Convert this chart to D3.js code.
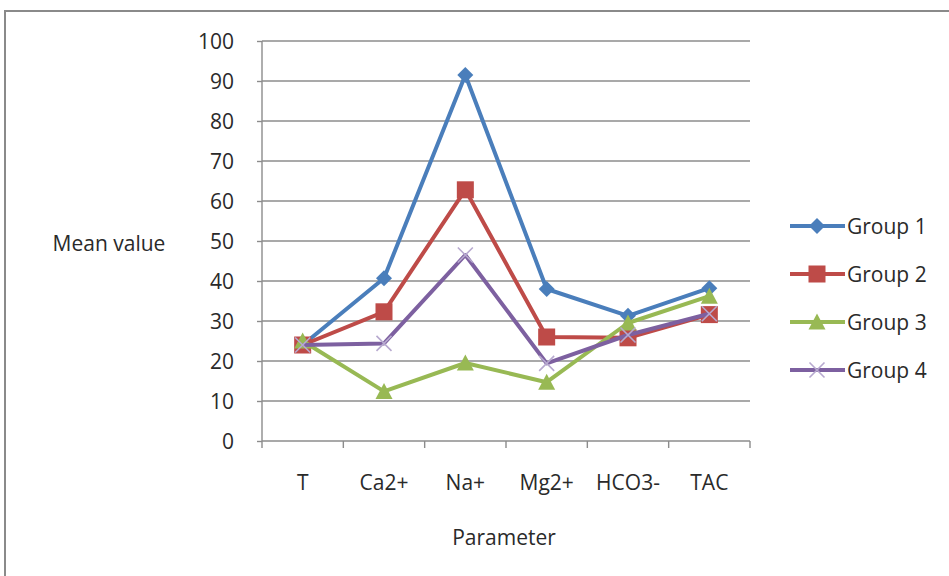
<!DOCTYPE html>
<html>
<head>
<meta charset="utf-8">
<script src="https://cdn.jsdelivr.net/npm/d3@7"></script>
<style>
  html, body { margin: 0; padding: 0; background: #fff; }
  svg { display: block; }
  text { font-family: "Open Sans", "Lato", sans-serif; fill: #2a2a2a; }
</style>
</head>
<body>
<div id="chart"></div>
<script>
// Mean value of each water parameter for the four groups
const categories = ["T", "Ca2+", "Na+", "Mg2+", "HCO3-", "TAC"];
const seriesNames = ["Group 1", "Group 2", "Group 3", "Group 4"];
const group1 = [24, 40.7, 91.5, 38, 31.3, 38.2];
const group2 = [24, 32.3, 62.8, 26, 25.8, 31.6];
const group3 = [25, 12.4, 19.5, 14.7, 29.5, 36.2];
const group4 = [24, 24.4, 46.5, 19.4, 26.5, 31.8];
const yTicks = [0, 10, 20, 30, 40, 50, 60, 70, 80, 90, 100];
const seriesColors = ["#4a7ebb", "#be4b48", "#98b954", "#7d60a0"];
const markerKinds = ["diamond", "square", "triangle", "cross"];

const W = 949, H = 576;
const FS = 21;
const svg = d3.select("#chart").append("svg").attr("width", W).attr("height", H);

// outer chart frame
svg.append("rect").attr("x", 5).attr("y", 11).attr("width", W + 10).attr("height", H + 10)
  .attr("fill", "#fff").attr("stroke", "#8a8a8a").attr("stroke-width", 2);

const plot = { left: 262, right: 750, top: 41, bottom: 441 };

const x = d3.scaleBand().domain(categories).range([plot.left, plot.right]);
const y = d3.scaleLinear().domain([0, 100]).range([plot.bottom, plot.top]);

// horizontal gridlines
svg.append("g").selectAll("line").data(yTicks.filter(d => d > 0)).join("line")
  .attr("x1", plot.left).attr("x2", plot.right)
  .attr("y1", d => y(d)).attr("y2", d => y(d))
  .attr("stroke", "#8c8c8c").attr("stroke-width", 1.4);

// y axis
const yAxis = svg.append("g").attr("transform", `translate(${plot.left},0)`)
  .call(d3.axisLeft(y).tickValues(yTicks).tickSize(5).tickPadding(8).tickFormat(d3.format("d")));
yAxis.select(".domain").attr("stroke", "#8c8c8c").attr("stroke-width", 1.4).attr("d", `M0,${plot.top}V${plot.bottom}`);
yAxis.selectAll(".tick line").attr("stroke", "#8c8c8c").attr("stroke-width", 1.4);
yAxis.selectAll(".tick text").attr("font-size", FS).attr("fill", "#2a2a2a")
  .attr("font-family", "'Open Sans', sans-serif").attr("dx", -15).attr("dy", "0.34em");

// x axis with ticks between categories
const xAxis = svg.append("g").attr("transform", `translate(0,${plot.bottom})`);
xAxis.append("line").attr("x1", plot.left).attr("x2", plot.right).attr("stroke", "#8c8c8c").attr("stroke-width", 1.4);
const bounds = categories.map(c => x(c)).concat([plot.right]);
xAxis.selectAll("line.tk").data(bounds).join("line").attr("class", "tk")
  .attr("x1", d => d).attr("x2", d => d).attr("y1", 0).attr("y2", 7)
  .attr("stroke", "#8c8c8c").attr("stroke-width", 1.4);
xAxis.selectAll("text").data(categories).join("text")
  .attr("x", d => x(d) + x.bandwidth() / 2).attr("y", 49)
  .attr("text-anchor", "middle").attr("font-size", FS).text(d => d);

// axis titles
svg.append("text").attr("x", 109).attr("y", 251).attr("text-anchor", "middle")
  .attr("font-size", FS).text("Mean value");
svg.append("text").attr("x", 504).attr("y", 545).attr("text-anchor", "middle")
  .attr("font-size", FS).text("Parameter");

// marker shapes
function drawMarker(g, kind, color, cx, cy) {
  if (kind === "diamond") {
    g.append("path").attr("d", `M${cx},${cy - 8}L${cx + 8},${cy}L${cx},${cy + 8}L${cx - 8},${cy}Z`)
      .attr("fill", color);
  } else if (kind === "square") {
    g.append("rect").attr("x", cx - 8.5).attr("y", cy - 8.5).attr("width", 17).attr("height", 17)
      .attr("fill", color);
  } else if (kind === "triangle") {
    g.append("path").attr("d", `M${cx},${cy - 8.5}L${cx + 8.5},${cy + 7.5}L${cx - 8.5},${cy + 7.5}Z`)
      .attr("fill", color);
  } else {
    g.append("path").attr("d", `M${cx - 7.5},${cy - 7.5}L${cx + 7.5},${cy + 7.5}M${cx + 7.5},${cy - 7.5}L${cx - 7.5},${cy + 7.5}`)
      .attr("stroke", "#b7a9cf").attr("stroke-width", 1.6).attr("fill", "none");
  }
}

const allSeries = [group1, group2, group3, group4];
const line = d3.line().x((d, i) => x(categories[i]) + x.bandwidth() / 2).y(d => y(d));

allSeries.forEach((vals, si) => {
  const g = svg.append("g");
  g.append("path").datum(vals).attr("d", line)
    .attr("fill", "none").attr("stroke", seriesColors[si]).attr("stroke-width", 4)
    .attr("stroke-linejoin", "round");
  vals.forEach((v, i) => drawMarker(g, markerKinds[si], seriesColors[si], x(categories[i]) + x.bandwidth() / 2, y(v)));
});

// legend
const legend = svg.append("g");
seriesNames.forEach((name, i) => {
  const ly = 226 + i * 48;
  const g = legend.append("g");
  g.append("line").attr("x1", 790).attr("x2", 845).attr("y1", ly).attr("y2", ly)
    .attr("stroke", seriesColors[i]).attr("stroke-width", 4);
  drawMarker(g, markerKinds[i], seriesColors[i], 817, ly);
  g.append("text").attr("x", 847).attr("y", ly + 8).attr("font-size", FS).text(name);
});
</script>
</body>
</html>
